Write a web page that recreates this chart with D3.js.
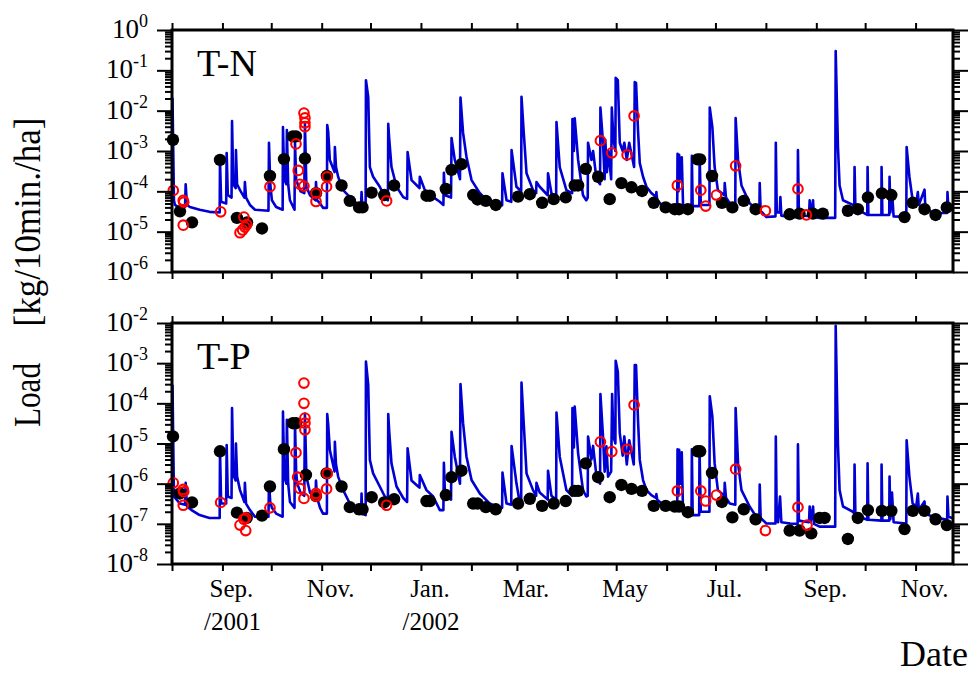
<html>
<head>
<meta charset="UTF-8">
<script src="https://d3js.org/d3.v7.min.js"></script>
<style>
  body { margin: 0; background: #fff; }
  svg text { font-family: "Liberation Serif", "DejaVu Serif", serif; fill: #000; }
  .axis .domain { display: none; }
  .axis line { stroke: #000; stroke-width: 2px; }
</style>
</head>
<body>
<svg id="chart" width="977" height="673"></svg>
<script>
// day counts from 1 Aug 2001, values in kg/10min./ha
const startDate = new Date(2001, 7, 1);
const endDate = new Date(2002, 10, 24);

const monthLabels = ["Sep.", "Nov.", "Jan.", "Mar.", "May", "Jul.", "Sep.", "Nov."];
const monthLabelDates = ["2001-09-01", "2001-11-01", "2002-01-01", "2002-03-01", "2002-05-01", "2002-07-01", "2002-09-01", "2002-11-01"];
const yearLabels = ["/2001", "", "/2002", "", "", "", "", ""];

const tnExponents = [0, -1, -2, -3, -4, -5, -6];
const tpExponents = [-2, -3, -4, -5, -6, -7, -8];

// continuous load (blue line)
const tnLine = [
[0.3,2.1e-2],[1.2,6e-5],[1.8,4.6e-5],[3.7,4.1e-5],[8.0,4.1e-5],[8.4,1.5e-4],[9.2,4.6e-5],[11,4.1e-5],[17,3.5e-5],[23,3.1e-5],[29.3,3e-5],[29.5,6e-4],[30.2,5.5e-5],[33.3,5e-5],[33.6,8.9e-4],[34.3,8.1e-5],[36.6,7e-5],[36.9,5.5e-3],[37.6,2e-4],[38.1,1.4e-4],[39.1,1.2e-4],[39.3,1.05e-3],[40,1.5e-4],[41.8,1.07e-4],[44.5,7e-5],[44.8,1.7e-4],[45.5,7e-5],[47.9,4.6e-5],[51,3.5e-5],[59.3,3.3e-5],[59.6,1.6e-3],[60.4,1.5e-4],[61.4,6e-5],[64,4.1e-5],[68,3.5e-5],[68.2,3.9e-3],[69,2e-4],[70.3,1.5e-4],[70.6,3.3e-3],[71.4,1.5e-4],[72.5,6e-5],[75.3,3.5e-5],[75.6,1.6e-3],[76.3,2e-4],[77,1.6e-4],[79,1e-4],[81.3,9e-5],[81.7,4.9e-3],[82.6,1.3e-4],[84.8,8e-5],[88.2,6e-5],[88.5,1.7e-4],[89.2,6e-5],[91,5e-5],[92.8,3.9e-5],[95.2,3.9e-5],[95.4,4.4e-3],[96,3e-3],[97,6e-4],[99.9,3e-4],[100.1,1.26e-3],[100.8,4e-4],[102.1,2.3e-4],[105.2,1.07e-4],[109.3,7.2e-5],[113.4,5.1e-5],[116.2,4.6e-5],[116.5,9.6e-5],[116.9,4.6e-5],[119,4.1e-5],[119.2,5.7e-2],[120.6,2.2e-2],[121.6,4e-4],[123.6,2.3e-4],[127.7,1.3e-4],[130.8,7.2e-5],[132.7,6e-5],[132.9,4.7e-3],[133.5,2e-3],[134.9,4e-4],[138,1.3e-4],[142.1,7.2e-5],[144.5,6.5e-5],[144.8,9.4e-4],[147.2,1.9e-4],[151.3,1.3e-4],[152.1,1.2e-4],[152.3,2.3e-4],[155.4,1.07e-4],[160.5,7.2e-5],[164.6,5.5e-5],[166.8,4.6e-5],[167.1,2.9e-4],[167.8,8e-5],[171.5,7e-5],[171.8,2.1e-3],[173.8,6e-4],[177,2e-4],[177.3,2.1e-2],[178.9,2.8e-3],[181,7.1e-4],[184.1,1.9e-4],[189.1,9.1e-5],[195.2,5.1e-5],[201.3,4.6e-5],[202.9,4.5e-5],[203.1,2.8e-4],[205.6,6e-5],[208.5,5.5e-5],[208.7,1.05e-3],[211.7,1.3e-4],[214.6,1e-4],[214.8,2.2e-2],[216.2,2.8e-3],[217.9,2.8e-4],[221.9,1.07e-4],[223.8,9e-5],[224,1.7e-4],[226,1.3e-4],[230.9,8e-5],[231.1,2.8e-4],[233.2,9e-5],[236.1,7e-5],[236.3,5.2e-3],[238.3,4e-4],[242.4,1.07e-4],[245.9,9e-5],[246.1,6.2e-3],[247,1e-3],[247.5,6.5e-3],[249.6,6e-4],[252.6,8e-5],[254.6,6e-5],[255.5,7e-5],[255.7,1.6e-3],[257.8,6e-4],[258.8,1e-3],[260.9,2e-4],[263.1,1.5e-4],[263.3,1.2e-2],[264.9,1.6e-3],[265.9,2e-4],[266.3,1.9e-3],[267.3,3e-4],[268.3,1e-3],[269.9,2e-4],[270.3,1.2e-2],[271.3,2e-3],[272.5,1e-3],[272.7,6.5e-2],[274,5.7e-2],[275.2,1.6e-3],[277,1e-3],[278,1.6e-3],[279.5,6e-4],[281,1.6e-3],[284,4e-4],[284.4,5.1e-2],[285.2,4.9e-2],[286.4,3.3e-3],[287.5,5e-4],[289.5,2.3e-4],[291.6,1.3e-4],[294.6,9.1e-5],[297.5,7.2e-5],[297.7,9.6e-5],[298.2,6e-5],[301,4.6e-5],[310.5,4.6e-5],[310.7,8.5e-4],[311.3,1e-4],[311.7,8e-4],[312.5,2e-4],[313.3,7e-4],[314.1,4.5e-5],[319.3,4.3e-5],[319.5,7.6e-4],[320,4.3e-5],[324.1,4.3e-5],[324.3,7.4e-4],[325,4.6e-5],[330.3,4.6e-5],[330.5,1.2e-2],[332.1,3.9e-3],[333.5,4e-4],[335.5,1.07e-4],[339.5,8e-5],[339.7,1.6e-4],[340.5,7e-5],[342.8,5.1e-5],[346.2,5e-5],[346.4,6.6e-3],[347.9,6e-4],[350,1.4e-4],[355,5.1e-5],[359.1,3.5e-5],[361,3.5e-5],[361.2,1.6e-4],[361.8,3.3e-5],[365.3,2.3e-5],[370.9,2.4e-5],[371.1,1.6e-3],[371.7,3e-5],[373.5,3e-5],[373.9,7.2e-5],[374.5,2.5e-5],[380,2.3e-5],[384.5,2.3e-5],[384.7,1.05e-3],[385.3,2.6e-5],[391.5,2.4e-5],[391.9,6e-5],[392.5,2.5e-5],[394,6e-5],[394.5,2.3e-5],[398,2.2e-5],[407.6,2.2e-5],[407.9,0.3],[409.3,1.26e-3],[410.3,1.4e-4],[412.4,6e-5],[418.5,4.6e-5],[419.3,4.6e-5],[419.5,4e-4],[420,4e-5],[422.6,3.9e-5],[424.5,3e-5],[427.3,2.6e-5],[427.5,4e-4],[428,2.6e-5],[436,2.6e-5],[436.1,4e-4],[436.6,2.6e-5],[440.8,2.6e-5],[441,2.3e-4],[441.5,3e-5],[442.5,1e-4],[443.5,2.4e-5],[451.3,2.3e-5],[451.5,1.26e-3],[453.2,2.3e-4],[455.2,6e-5],[457.4,5e-5],[458.4,9.6e-5],[459,4.6e-5],[462.5,1.1e-4],[463,4e-5],[465,3.5e-5],[467.6,2.9e-5],[476.4,2.9e-5],[476.6,9.6e-5],[477.2,3.5e-5],[479.5,3.9e-5]
];
const tpLine = [
[0.3,2.9e-4],[1.2,4.8e-7],[4.9,3.2e-7],[8.0,3e-7],[8.4,1.05e-6],[9.2,2.7e-7],[12,2.2e-7],[17,1.65e-7],[23,1.4e-7],[29.3,1.4e-7],[29.5,6.9e-6],[30.2,3.2e-7],[33.3,3.2e-7],[33.6,9.1e-6],[34.3,4.8e-7],[36.6,4.4e-7],[36.9,7.6e-5],[37.6,3e-6],[38.1,1.5e-6],[39.1,1.2e-6],[39.3,1e-5],[40,1.5e-6],[41.8,6.9e-7],[44.5,3.5e-7],[44.8,1.05e-6],[45.5,3.2e-7],[47.9,2.2e-7],[51,1.5e-7],[59.3,1.5e-7],[59.6,1.1e-6],[60.4,3.5e-7],[61.4,2.5e-7],[64,1.8e-7],[68,1.5e-7],[68.2,6.2e-5],[69,1.5e-6],[70.3,1e-6],[70.6,3.9e-5],[71.4,1e-6],[72.5,3.5e-7],[75.3,2.5e-7],[75.6,3e-5],[76.3,2e-6],[77,1e-6],[79,6e-7],[81.3,5e-7],[81.7,5.6e-5],[82.6,1.5e-6],[84.8,6e-7],[88.2,4.8e-7],[88.5,1.2e-6],[89.2,4.4e-7],[91,2.5e-7],[92.8,1.8e-7],[95.2,1.8e-7],[95.4,5.4e-5],[96,3e-5],[97,6.9e-6],[99.9,2e-6],[100.1,1.1e-5],[100.8,3e-6],[102.1,1.5e-6],[105.2,6.9e-7],[109.3,3.2e-7],[113.4,1.8e-7],[116.2,1.8e-7],[116.5,5.7e-7],[116.9,1.8e-7],[119,1.65e-7],[119.2,1.1e-3],[120.6,2.9e-4],[121.6,3.9e-6],[123.6,1.8e-6],[127.7,8.5e-7],[130.8,4.8e-7],[132.7,4e-7],[132.9,5.4e-5],[133.5,2e-5],[134.9,3.2e-6],[138,8.5e-7],[142.1,4.4e-7],[144.5,3.5e-7],[144.8,7.6e-6],[147.2,1.2e-6],[151.3,8.5e-7],[152.1,8e-7],[152.3,1.65e-6],[156.4,6.9e-7],[160.5,4.8e-7],[164.6,2.2e-7],[166.8,2.2e-7],[167.1,3.3e-6],[167.8,5e-7],[171.5,4e-7],[171.8,1.95e-5],[173.8,4.7e-6],[177,1e-6],[177.3,3e-4],[178.9,3.2e-5],[181,4.7e-6],[184.1,1.23e-6],[189.2,5.7e-7],[195.3,3.2e-7],[201.5,2.5e-7],[202.9,2.5e-7],[203.1,1.9e-6],[205.6,3.2e-7],[208.5,3e-7],[208.7,8.7e-6],[211.7,1.02e-6],[213.8,3.2e-7],[214.6,3e-7],[214.8,3.3e-4],[216.2,3e-5],[217.9,1.8e-6],[221.9,6.9e-7],[223.8,5e-7],[224,1.05e-6],[226,6e-7],[230.9,4e-7],[231.1,2.1e-6],[233.2,5e-7],[236.1,4e-7],[236.3,5.9e-5],[238.3,4.7e-6],[242.4,6.9e-7],[245.9,5e-7],[246.1,7.6e-5],[247,8e-6],[247.5,8.3e-5],[249.6,5.7e-6],[252.6,6.9e-7],[254.6,4.8e-7],[255.5,5e-7],[255.7,1.5e-5],[257.8,4e-6],[258.8,8.7e-6],[260.9,1.5e-6],[263.1,1e-6],[263.3,1.7e-4],[264.9,1.5e-5],[265.9,2e-6],[267,8.5e-6],[268,1.5e-6],[269.9,2e-6],[270.5,1.7e-4],[271.3,1.5e-5],[272.5,1e-5],[272.7,1.15e-3],[274,6.1e-4],[275.2,1.8e-5],[277,5e-6],[278,1.5e-5],[279.5,3e-6],[281,1.2e-5],[283.8,3e-6],[284.4,9e-4],[285.2,9e-4],[286.4,3.9e-5],[287.5,3.9e-6],[289.5,1.23e-6],[291.6,6.9e-7],[294.6,5.2e-7],[297.5,4.4e-7],[297.7,5.5e-7],[298.2,4e-7],[301,3.2e-7],[310.5,2.2e-7],[310.7,7.2e-6],[311.3,5e-7],[311.7,7e-6],[312.5,1e-6],[313.3,6e-6],[314.1,1.8e-7],[319.3,1.65e-7],[319.5,7.2e-6],[320,1.65e-7],[324,1.65e-7],[324.2,7.2e-6],[325,2e-7],[330.3,2e-7],[330.5,1.5e-4],[332.1,4.7e-5],[333.5,3.2e-6],[335.5,6.9e-7],[339.5,5e-7],[339.7,1.05e-6],[340.5,4.4e-7],[342.8,3.2e-7],[346.2,3e-7],[346.4,7.6e-5],[347.9,3.2e-6],[350,6.9e-7],[355,2.7e-7],[359.1,1.5e-7],[361,1.5e-7],[361.2,9.5e-7],[361.8,1.4e-7],[365.3,1.02e-7],[370.9,1.02e-7],[371.1,1.5e-5],[371.7,1.2e-7],[372.5,1.1e-7],[373.7,4.8e-7],[374.5,1.1e-7],[380,1.02e-7],[384.5,1e-7],[384.7,9.5e-6],[385.3,1.2e-7],[391.5,1.1e-7],[391.9,2.7e-7],[392.5,1.1e-7],[394,2.7e-7],[394.5,1e-7],[398,8.5e-8],[407.6,8.5e-8],[407.9,8.5e-3],[409.3,9.1e-6],[410.3,6.9e-7],[412.4,2.7e-7],[418.5,2e-7],[419.3,1.8e-7],[419.5,3e-6],[420,1.8e-7],[422.6,1.8e-7],[424.5,1.4e-7],[427.3,1.26e-7],[427.5,3.2e-6],[428,1.26e-7],[436,1.2e-7],[436.1,3e-6],[436.6,1.2e-7],[440.8,1.2e-7],[441,1.5e-6],[441.5,1.3e-7],[442.5,6e-7],[443.5,1.1e-7],[451.3,1.02e-7],[451.5,1.2e-5],[453.2,1.5e-6],[455.2,3.2e-7],[457.4,2.7e-7],[458.4,5.7e-7],[459,2.2e-7],[462.5,3.6e-7],[463,1.8e-7],[467.6,1.5e-7],[476.4,1.26e-7],[476.6,4.8e-7],[477.2,1.5e-7],[479.5,1.4e-7]
];

// black dots
const tnDots = [
[0.6,1.9e-3],[4.9,3.2e-5],[12.3,1.7e-5],[29.5,6e-4],[39.9,2.2e-5],[46.1,1.7e-5],[55.3,1.2e-5],[60.2,2.4e-4],[68.8,6.3e-4],[74.3,2.3e-3],[76.2,2.3e-3],[81.7,6.5e-4],[88.5,9e-5],[95.2,2.4e-4],[104.2,1.4e-4],[109.3,5.8e-5],[115,4e-5],[117.1,4e-5],[122.7,9.3e-5],[130.4,8.1e-5],[136.5,1.4e-4],[156.4,7.8e-5],[158.5,7.8e-5],[168.3,1.15e-4],[171.8,3.4e-4],[177.9,4.7e-4],[185.1,8.1e-5],[187.8,6.3e-5],[192.9,5.8e-5],[199,4.6e-5],[212.7,7.4e-5],[219.9,8.5e-5],[227.5,5.2e-5],[234.6,6.4e-5],[242,7.1e-5],[247.5,1.4e-4],[249.6,1.4e-4],[254.3,3.6e-4],[261.9,2.3e-4],[269,6.4e-5],[276.2,1.6e-4],[282.4,1.26e-4],[288.9,1.02e-4],[296.1,5.2e-5],[303.4,4e-5],[309,3.6e-5],[311.6,3.6e-5],[317.1,3.6e-5],[323,6.2e-4],[324.6,6.2e-4],[331.9,2.4e-4],[338,5.2e-5],[344.4,4e-5],[351.4,5.8e-5],[358.7,3.6e-5],[379.6,2.7e-5],[385.7,2.8e-5],[393.9,2.8e-5],[400,2.8e-5],[415.4,3.3e-5],[421.5,3.6e-5],[427.7,7.1e-5],[436.3,8.9e-5],[442.1,8.1e-5],[450.2,2.3e-5],[455.3,5.2e-5],[462.5,3.6e-5],[469.3,2.6e-5],[476.2,4e-5]
];
const tpDots = [
[0.6,1.5e-5],[4.9,5.7e-7],[12.3,3.4e-7],[29.5,6.4e-6],[39.9,1.9e-7],[45.9,1.4e-7],[55.3,1.6e-7],[60.2,8.5e-7],[68.8,7.2e-6],[74.3,3.2e-5],[76.2,3.2e-5],[82.3,1.65e-6],[88.5,4.9e-7],[95,1.8e-6],[104.2,8.5e-7],[109.3,2.6e-7],[115,2.3e-7],[117.1,2.3e-7],[122.7,4.6e-7],[130.4,3.4e-7],[136.5,4.1e-7],[156.4,3.7e-7],[158.5,3.7e-7],[168.3,5.2e-7],[171.8,1.45e-6],[177.9,2.1e-6],[185.1,3.2e-7],[187.8,3.2e-7],[192.9,2.6e-7],[199,2.3e-7],[212.7,3.2e-7],[219.9,4.2e-7],[227.5,2.8e-7],[234.6,3.2e-7],[242,3.7e-7],[247.5,6.6e-7],[249.6,6.6e-7],[254.3,3.2e-6],[261.9,1.45e-6],[269,4.6e-7],[276.2,9.3e-7],[282.4,7.4e-7],[288.9,6.6e-7],[296.1,2.8e-7],[303.4,2.8e-7],[309,2.7e-7],[311.6,2.7e-7],[317.1,1.95e-7],[323,6.4e-6],[324.6,6.4e-6],[331.9,1.85e-6],[338,3.5e-7],[344.4,1.45e-7],[351.4,2.3e-7],[358.7,1.3e-7],[379.6,6.8e-8],[385.7,6.8e-8],[392.9,5.8e-8],[398,1.4e-7],[401.1,1.4e-7],[415.4,4.2e-8],[421.5,1.4e-7],[427.7,2.2e-7],[436.3,2.1e-7],[442.1,2.1e-7],[450.2,7.4e-8],[455.3,2.1e-7],[462.5,2.1e-7],[469.3,1.3e-7],[476.2,9.3e-8]
];

// red open circles
const tnRings = [
[0.8,1.05e-4],[6.9,6e-5],[7.2,5.4e-5],[6.9,1.45e-5],[29.9,3.1e-5],[44.2,2.3e-5],[41.8,9.4e-6],[43.4,1.1e-5],[44.8,1.3e-5],[45.9,1.5e-5],[60.2,1.3e-4],[76.2,1.5e-3],[77.6,3.3e-4],[78.6,1.5e-4],[81.1,1.35e-4],[81.1,8.7e-3],[81.7,6.6e-3],[81.7,5e-3],[81.7,4e-3],[88.5,9e-5],[88.5,5.6e-5],[95,1.3e-4],[95.4,2.3e-4],[131.9,5.8e-5],[263.3,1.8e-3],[270.3,9e-4],[279.7,8e-4],[284,7.4e-3],[310.6,1.4e-4],[325,1.07e-4],[328,4.3e-5],[334.6,8.1e-5],[346.4,4.3e-4],[364.7,3.3e-5],[384.7,1.15e-4],[389.9,2.6e-5]
];
const tpRings = [
[0.8,1.05e-6],[6.9,7.2e-7],[7.2,6.3e-7],[6.9,2.9e-7],[29.9,3.4e-7],[41.8,9.3e-8],[44.2,1.3e-7],[45.3,1.4e-7],[45.3,6.8e-8],[60.2,2.5e-7],[76.2,5.9e-6],[77.2,1.45e-6],[78.6,7.6e-7],[81.1,4.3e-7],[81.1,3.2e-4],[81.1,1e-4],[81.7,4.3e-5],[81.7,3.2e-5],[81.7,2.2e-5],[88.5,5.7e-7],[88.5,4.9e-7],[95.4,1.8e-6],[95,7.4e-7],[131.9,2.9e-7],[263.3,1.1e-5],[270.3,6.3e-6],[279.7,7.2e-6],[284,9.1e-5],[310.6,6.6e-7],[325,6.6e-7],[328,3.7e-7],[334.6,5.2e-7],[346.4,2.3e-6],[364.7,6.8e-8],[384.7,2.6e-7],[390.3,9.3e-8]
];

const svg = d3.select('#chart');
const left = 172, right = 953;
const dayToDate = d => new Date(+startDate + d * 864e5);
const x = d3.scaleTime().domain([startDate, endDate]).range([left, right]);
const months = d3.timeMonth.range(startDate, d3.timeDay.offset(endDate, 1));

const panels = [
  {name: 'T-N', top: 30, bottom: 272, exps: tnExponents, line: tnLine, dots: tnDots, rings: tnRings},
  {name: 'T-P', top: 323, bottom: 564, exps: tpExponents, line: tpLine, dots: tpDots, rings: tpRings}
];

panels.forEach((p, i) => {
  const y = d3.scaleLog()
    .domain([Math.pow(10, d3.min(p.exps)), Math.pow(10, d3.max(p.exps))])
    .range([p.bottom, p.top]);
  const majors = p.exps.map(e => Math.pow(10, e));
  const minors = [];
  p.exps.slice(1).forEach(e => {
    for (let k = 2; k < 10; k++) minors.push(k * Math.pow(10, e));
  });

  svg.append('clipPath').attr('id', 'clip' + i)
    .append('rect').attr('x', left).attr('y', p.top)
    .attr('width', right - left).attr('height', p.bottom - p.top);

  const g = svg.append('g');

  // blue line
  const line = d3.line().x(d => x(dayToDate(d[0]))).y(d => y(d[1]));
  g.append('path').datum(p.line)
    .attr('clip-path', 'url(#clip' + i + ')')
    .attr('fill', 'none')
    .attr('stroke', '#0000d4')
    .attr('stroke-width', 2.6)
    .attr('stroke-linejoin', 'round')
    .attr('d', line);

  // black dots
  g.selectAll('circle.dot').data(p.dots).join('circle')
    .attr('class', 'dot')
    .attr('cx', d => x(dayToDate(d[0])))
    .attr('cy', d => y(d[1]))
    .attr('r', 6.2)
    .attr('fill', '#000');

  // red rings
  g.selectAll('circle.ring').data(p.rings).join('circle')
    .attr('class', 'ring')
    .attr('cx', d => x(dayToDate(d[0])))
    .attr('cy', d => y(d[1]))
    .attr('r', 4.8)
    .attr('fill', 'none')
    .attr('stroke', '#ff0000')
    .attr('stroke-width', 2.1);

  // axes (ticks all outward)
  svg.append('g').attr('class', 'axis').attr('transform', `translate(0,${p.top})`)
    .call(d3.axisTop(x).tickValues(months).tickSize(7).tickFormat(''));
  svg.append('g').attr('class', 'axis').attr('transform', `translate(0,${p.bottom})`)
    .call(d3.axisBottom(x).tickValues(months).tickSize(7).tickFormat(''));
  svg.append('g').attr('class', 'axis').attr('transform', `translate(${left},0)`)
    .call(d3.axisLeft(y).tickValues(majors).tickSize(15).tickFormat(''));
  svg.append('g').attr('class', 'axis').attr('transform', `translate(${left},0)`)
    .call(d3.axisLeft(y).tickValues(minors).tickSize(7).tickFormat(''));
  svg.append('g').attr('class', 'axis').attr('transform', `translate(${right},0)`)
    .call(d3.axisRight(y).tickValues(majors).tickSize(15).tickFormat(''));
  svg.append('g').attr('class', 'axis').attr('transform', `translate(${right},0)`)
    .call(d3.axisRight(y).tickValues(minors).tickSize(7).tickFormat(''));

  // frame
  svg.append('rect')
    .attr('x', left).attr('y', p.top)
    .attr('width', right - left).attr('height', p.bottom - p.top)
    .attr('fill', 'none').attr('stroke', '#000').attr('stroke-width', 3);

  // tick labels 10^n
  const lab = svg.append('g').selectAll('text').data(p.exps).join('text')
    .attr('x', 148)
    .attr('y', e => y(Math.pow(10, e)) + 8)
    .attr('text-anchor', 'end')
    .attr('font-size', 27);
  lab.append('tspan').text('10');
  lab.append('tspan').attr('dy', -11).attr('font-size', 18).text(e => String(e));

  // panel name
  svg.append('text').attr('x', 197).attr('y', p.top + 46)
    .attr('font-size', 38).text(p.name);
});

// month labels
const mlab = svg.append('g');
mlab.selectAll('text.m').data(monthLabels).join('text')
  .attr('class', 'm')
  .attr('x', (d, i) => x(d3.timeParse('%Y-%m-%d')(monthLabelDates[i])) + 9)
  .attr('y', 597)
  .attr('text-anchor', 'middle')
  .attr('font-size', 25)
  .text(d => d);
mlab.selectAll('text.yr').data(yearLabels).join('text')
  .attr('class', 'yr')
  .attr('x', (d, i) => x(d3.timeParse('%Y-%m-%d')(monthLabelDates[i])) + 10)
  .attr('y', 630)
  .attr('text-anchor', 'middle')
  .attr('font-size', 25)
  .text(d => d);

// axis titles
svg.append('text').attr('x', 968).attr('y', 666)
  .attr('text-anchor', 'end').attr('font-size', 36).text('Date');
svg.append('text').attr('transform', 'translate(40,395) rotate(-90)')
  .attr('text-anchor', 'middle').attr('font-size', 38)
  .attr('textLength', 64).attr('lengthAdjust', 'spacingAndGlyphs')
  .text('Load');
svg.append('text').attr('transform', 'translate(40,222) rotate(-90)')
  .attr('text-anchor', 'middle').attr('font-size', 38)
  .attr('textLength', 209).attr('lengthAdjust', 'spacingAndGlyphs')
  .text('[kg/10min./ha]');
</script>
</body>
</html>
